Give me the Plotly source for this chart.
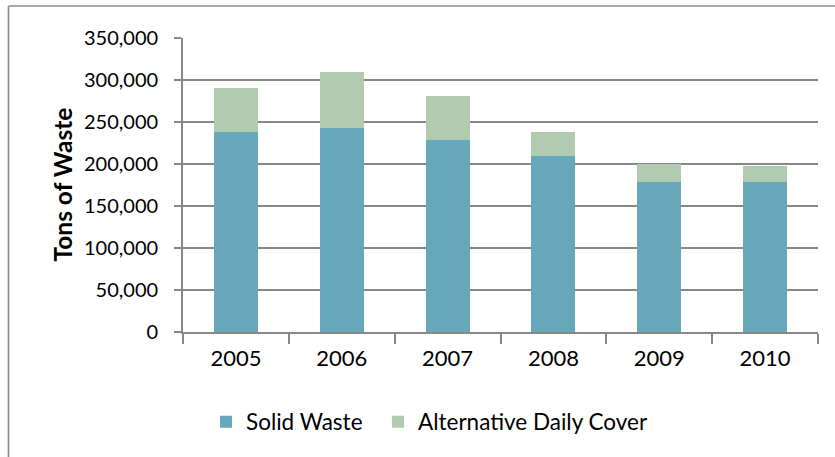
import plotly.graph_objects as go

years = ["2005", "2006", "2007", "2008", "2009", "2010"]
solid_waste = [238000, 242500, 228000, 209000, 178500, 178500]
alt_daily_cover = [52000, 66500, 52500, 29000, 21500, 19000]
y_ticks = [0, 50000, 100000, 150000, 200000, 250000, 300000, 350000]
y_tick_text = ["{:,}".format(v) for v in y_ticks]

W, H = 835, 457
FONT = "Lato"
GRID = "#878787"

fig = go.Figure()
fig.add_trace(go.Bar(x=years, y=solid_waste, name="Solid Waste",
                     marker=dict(color="#66A7BA", line=dict(width=0)),
                     legend="legend", showlegend=True))
fig.add_trace(go.Bar(x=years, y=alt_daily_cover, name="Alternative Daily Cover",
                     marker=dict(color="#B0CBB0", line=dict(width=0)),
                     legend="legend2", showlegend=True))

legend_common = dict(orientation="h", xanchor="left", y=1 - 422 / H,
                     yanchor="middle", font=dict(size=22.5, family=FONT),
                     bgcolor="rgba(0,0,0,0)", visible=True)

fig.update_layout(
    width=W, height=H,
    margin=dict(l=0, r=0, t=0, b=0),
    paper_bgcolor="white", plot_bgcolor="white",
    showlegend=True,
    barmode="stack", bargap=0.584,
    font=dict(family=FONT, color="#000000"),
    xaxis=dict(domain=[183 / W, 818 / W], automargin=False,
               showline=True, linecolor=GRID, linewidth=1.7,
               ticks="outside", tickson="boundaries", ticklen=10,
               tickcolor=GRID, tickwidth=1.7,
               tickfont=dict(size=22, family=FONT), ticklabelstandoff=6,
               showgrid=False),
    yaxis=dict(domain=[1 - 332 / H, 1 - 37.5 / H], automargin=False,
               range=[0, 350000], tickvals=y_ticks, ticktext=y_tick_text,
               showline=True, linecolor=GRID, linewidth=1.7,
               ticks="outside", ticklen=7, tickcolor=GRID, tickwidth=1.7,
               tickfont=dict(size=20, family=FONT), ticklabelstandoff=12,
               showgrid=True, gridcolor=GRID, gridwidth=1.7, zeroline=False),
    legend=dict(x=206 / W, **legend_common),
    legend2=dict(x=378 / W, **legend_common),
    annotations=[dict(text="<b>Tons of Waste</b>", textangle=-90,
                      x=61.5 / W, y=1 - 185 / H, xref="paper", yref="paper",
                      xanchor="center", yanchor="middle", showarrow=False,
                      font=dict(size=24.5, family=FONT, color="#000000"))],
    shapes=[
        dict(type="line", xref="paper", yref="paper",
             x0=8.5 / W, x1=1.0, y0=1 - 6 / H, y1=1 - 6 / H,
             line=dict(color="#8C8C8C", width=1.7)),
        dict(type="line", xref="paper", yref="paper",
             x0=8.5 / W, x1=8.5 / W, y0=1 - 6 / H, y1=0,
             line=dict(color="#8C8C8C", width=1.7)),
    ],
)

fig.write_html("out.html")
